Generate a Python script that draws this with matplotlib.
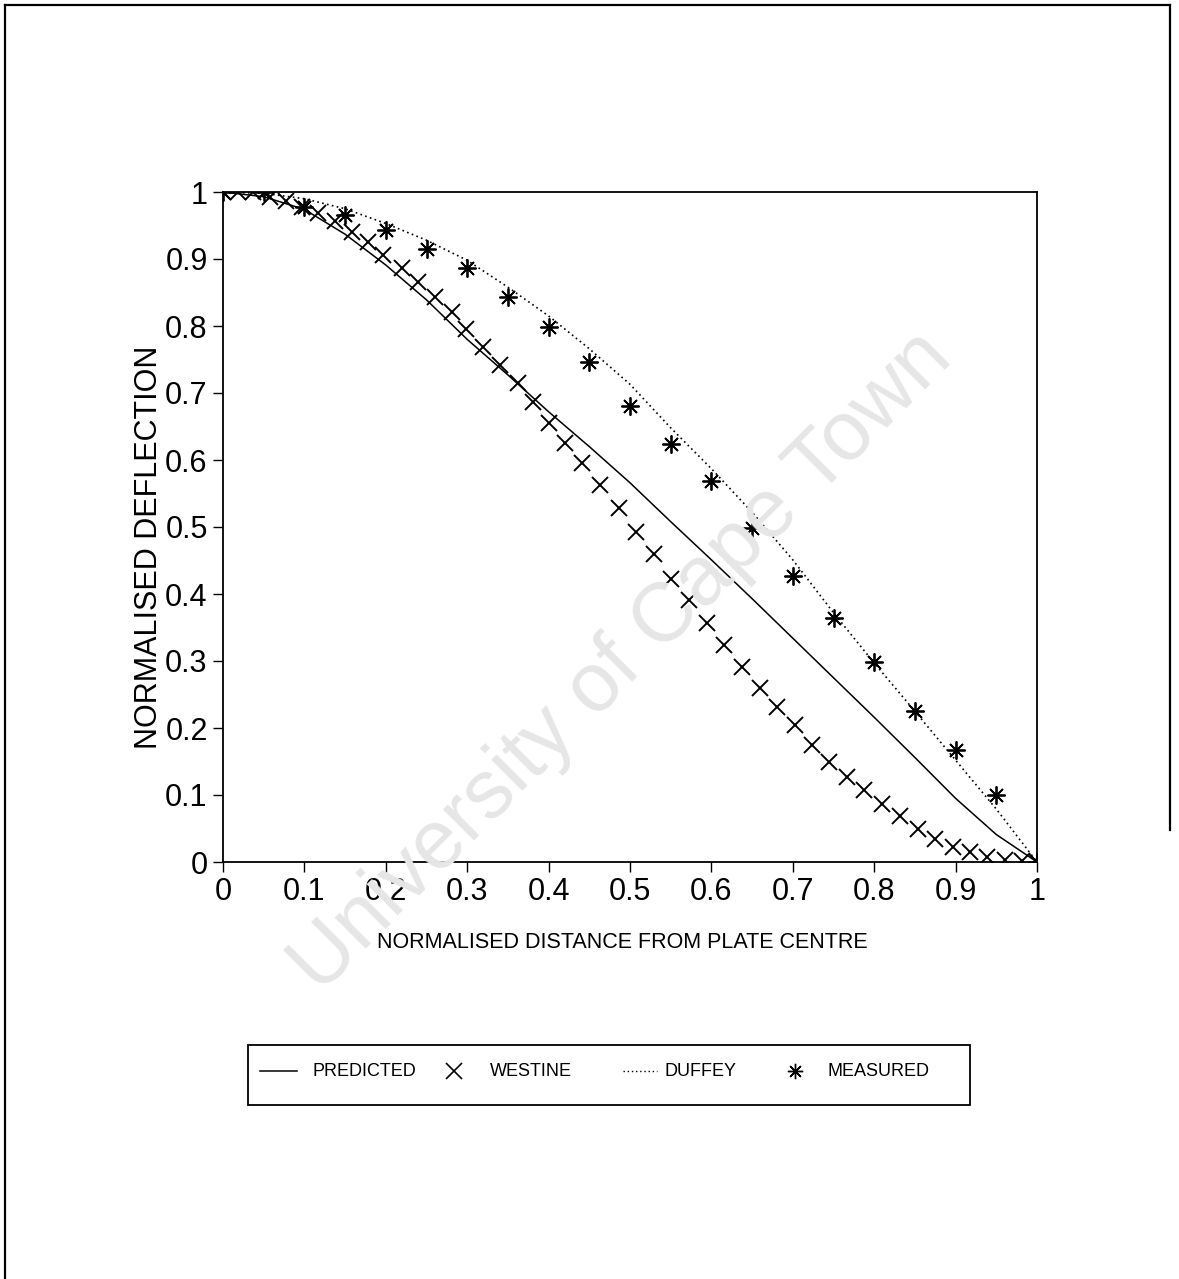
import matplotlib

matplotlib.use("Agg")
import matplotlib.pyplot as plt
from matplotlib import font_manager
from matplotlib.lines import Line2D
from matplotlib.patches import Rectangle

# predicted (solid line)
pred_x = [0.0, 0.05, 0.1, 0.15, 0.2, 0.25, 0.3, 0.35, 0.4, 0.45, 0.5,
          0.55, 0.6, 0.65, 0.7, 0.75, 0.8, 0.85, 0.9, 0.95, 1.0]
pred_y = [1.0, 0.993, 0.974, 0.937, 0.891, 0.839, 0.780, 0.727, 0.672, 0.620, 0.566,
          0.508, 0.451, 0.393, 0.334, 0.275, 0.216, 0.156, 0.095, 0.041, 0.0]

# westine (x markers)
west_x = [0.0, 0.019, 0.037, 0.058, 0.078, 0.097, 0.117, 0.138, 0.158, 0.178,
          0.197, 0.220, 0.240, 0.260, 0.281, 0.299, 0.320, 0.340, 0.363, 0.381,
          0.400, 0.420, 0.441, 0.463, 0.486, 0.507, 0.529, 0.550, 0.572, 0.594,
          0.616, 0.637, 0.660, 0.681, 0.703, 0.724, 0.745, 0.766, 0.788, 0.809,
          0.832, 0.854, 0.875, 0.897, 0.918, 0.939, 0.961, 0.981, 1.0]
west_y = [1.0, 1.0, 1.0, 0.993, 0.987, 0.978, 0.968, 0.956, 0.941, 0.926,
          0.906, 0.887, 0.866, 0.844, 0.821, 0.796, 0.769, 0.742, 0.715, 0.687,
          0.655, 0.625, 0.595, 0.563, 0.528, 0.493, 0.460, 0.423, 0.391, 0.356,
          0.324, 0.291, 0.259, 0.232, 0.204, 0.175, 0.150, 0.127, 0.107, 0.087,
          0.068, 0.050, 0.035, 0.023, 0.015, 0.008, 0.003, 0.001, 0.0]

# duffey (dotted line)
duff_x = [0.0, 0.05, 0.1, 0.15, 0.2, 0.25, 0.3, 0.35, 0.4, 0.45, 0.5,
          0.55, 0.6, 0.65, 0.7, 0.75, 0.8, 0.85, 0.9, 0.95, 1.0]
duff_y = [1.0, 0.998, 0.990, 0.975, 0.953, 0.928, 0.898, 0.858, 0.815, 0.766, 0.713,
          0.648, 0.587, 0.522, 0.451, 0.372, 0.297, 0.225, 0.152, 0.079, 0.0]

# measured (asterisks)
meas_x = [0.0, 0.05, 0.1, 0.15, 0.2, 0.25, 0.3, 0.35, 0.4, 0.45, 0.5,
          0.55, 0.6, 0.65, 0.7, 0.75, 0.8, 0.85, 0.9, 0.95, 1.0]
meas_y = [1.0, 1.0, 0.978, 0.966, 0.944, 0.915, 0.887, 0.843, 0.799, 0.747, 0.681,
          0.624, 0.569, 0.499, 0.427, 0.364, 0.299, 0.226, 0.167, 0.100, 0.0]

ticks = [0, 0.1, 0.2, 0.3, 0.4, 0.5, 0.6, 0.7, 0.8, 0.9, 1]
tick_labels = ["0", "0.1", "0.2", "0.3", "0.4", "0.5", "0.6", "0.7", "0.8", "0.9", "1"]
legend_labels = ["PREDICTED", "WESTINE", "DUFFEY", "MEASURED"]

W, H = 1179, 1279
installed = {f.name for f in font_manager.fontManager.ttflist}
regular = "Liberation Sans" if "Liberation Sans" in installed else "DejaVu Sans"
narrow = "Liberation Sans Narrow" if "Liberation Sans Narrow" in installed else regular
ASTER = (8, 2, 0)
DOTS = (0, (1, 2))

fig = plt.figure(figsize=(W / 100, H / 100), dpi=100)
fig.patch.set_facecolor("white")

# watermark
fig.text(622 / W, 1 - 662 / H, "University of Cape Town", rotation=45,
         rotation_mode="anchor", ha="center", va="center", fontsize=60,
         family=regular, color="#e6e6e6", zorder=0)

ax = fig.add_axes([223 / W, 1 - 862 / H, 814 / W, 670 / H])
ax.patch.set_alpha(0)

ax.plot(pred_x, pred_y, color="black", linewidth=1.1, zorder=3)
ax.plot(duff_x, duff_y, color="black", linewidth=1.2, linestyle=DOTS, zorder=3)
ax.plot(west_x, west_y, linestyle="none", marker="x", markersize=12,
        markeredgewidth=1.4, color="black", zorder=4)
ax.plot(meas_x, meas_y, linestyle="none", marker=ASTER, markersize=13,
        markeredgewidth=1.3, color="black", zorder=4)

ax.set_xlim(0, 1)
ax.set_ylim(0, 1)
ax.set_xticks(ticks)
ax.set_xticklabels(tick_labels, family=narrow, fontsize=22)
ax.set_yticks(ticks)
ax.set_yticklabels(tick_labels, family=narrow, fontsize=22)
ax.tick_params(direction="out", length=7, width=1.0, pad=4, colors="black")
for spine in ax.spines.values():
    spine.set_linewidth(1.3)

ax.set_xlabel("NORMALISED DISTANCE FROM PLATE CENTRE", family=narrow, fontsize=15.5)
ax.xaxis.set_label_coords(0.49, -0.104)
ax.set_ylabel("NORMALISED DEFLECTION", family=regular, fontsize=22)
ax.yaxis.set_label_coords(-0.073, 0.47)

# legend: box, handles and labels placed on the page
fig.patches.append(Rectangle((248 / W, 1 - 1105 / H), 722 / W, 60 / H,
                             transform=fig.transFigure, fill=False,
                             edgecolor="black", linewidth=1.3))
ly = 1 - 1071 / H
fig.add_artist(Line2D([260 / W, 297 / W], [ly, ly], transform=fig.transFigure,
                      color="black", linewidth=1.1))
fig.add_artist(Line2D([454 / W], [ly], transform=fig.transFigure, linestyle="none",
                      marker="x", markersize=11, markeredgewidth=1.2, color="black"))
fig.add_artist(Line2D([623 / W, 657 / W], [ly, ly], transform=fig.transFigure,
                      color="black", linewidth=1.0, linestyle=DOTS))
fig.add_artist(Line2D([795 / W], [ly], transform=fig.transFigure, linestyle="none",
                      marker=ASTER, markersize=11, markeredgewidth=1.0, color="black"))
for label, lx in zip(legend_labels, [313, 490, 664, 828]):
    fig.text(lx / W, ly, label, ha="left", va="center", family=narrow, fontsize=13)

# page border
fig.add_artist(Line2D([5 / W, 5 / W], [0, 1 - 5 / H], transform=fig.transFigure,
                      color="black", linewidth=1.6))
fig.add_artist(Line2D([5 / W, 1170 / W], [1 - 5 / H, 1 - 5 / H], transform=fig.transFigure,
                      color="black", linewidth=1.6))
fig.add_artist(Line2D([1170 / W, 1170 / W], [1 - 5 / H, 1 - 830 / H], transform=fig.transFigure,
                      color="black", linewidth=1.6))

fig.savefig("out.png", dpi=100, facecolor="white")
